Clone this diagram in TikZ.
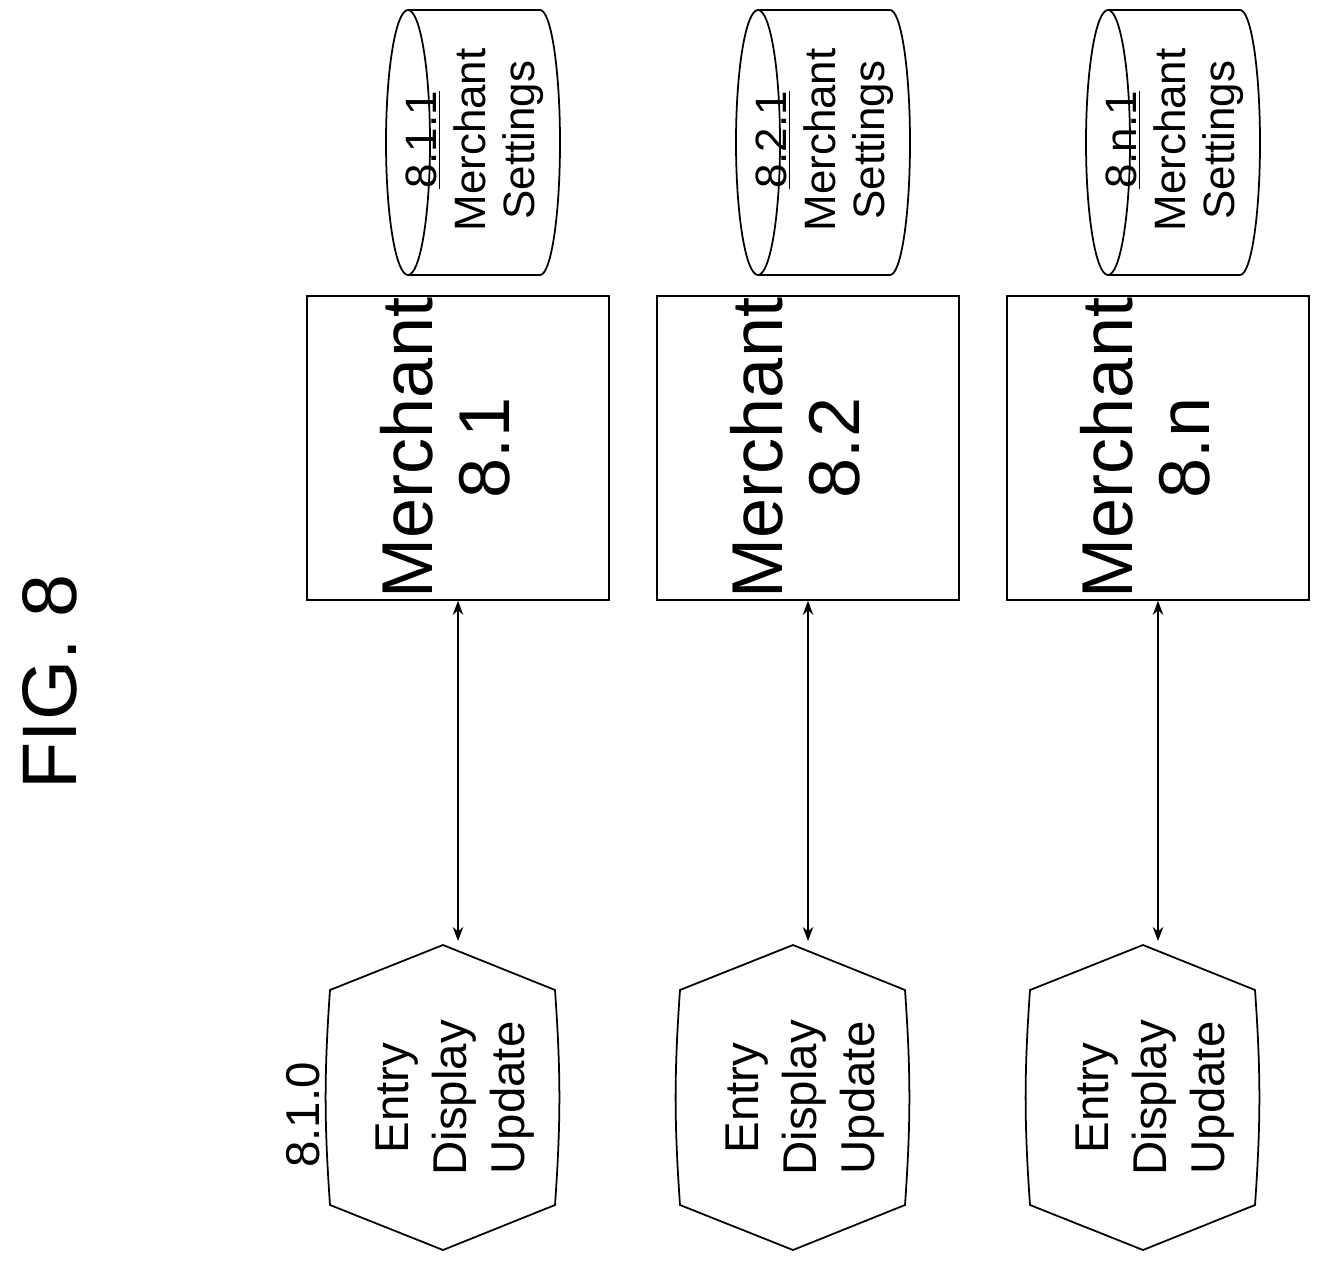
\documentclass[tikz,border=0pt]{standalone}
\usepackage{fontspec}
\setmainfont{Liberation Sans}
\usetikzlibrary{positioning, arrows.meta}

\begin{document}
\begin{tikzpicture}[
	x=0.02cm,
	y=-0.02cm,
	merchant/.style={draw, line width=1pt, minimum width=6.04cm, minimum height=6.08cm, inner sep=0pt},
	vtext/.style={rotate=90, align=center},
	>={Stealth[length=8pt, width=6pt]}
]
\useasboundingbox (0,0) rectangle (1332,1273);

\node [vtext, font=\fontsize{44}{50}\selectfont] (fig) at (50,682) {FIG. 8};

\foreach \dx/\n [count=\i] in {0/1, 350/2, 700/n} {
	% merchant box
	\node [merchant] (merchant-\i) at (458+\dx,448) {};
	\node [vtext, font=\fontsize{41}{44}\selectfont] (merchant-\i-text) at (445+\dx,448) {Merchant\\8.\n};
	% settings store
	\draw [line width=1pt] (408+\dx,10) -- (540+\dx,10) arc[start angle=90, end angle=-90, x radius=20, y radius=-132.5] -- (408+\dx,275);
	\draw [line width=1pt] (408+\dx,142.5) ellipse[x radius=22, y radius=132.5];
	\node [vtext, font=\fontsize{25}{28}\selectfont] (settings-\i) at (475+\dx,140) {\underline{8.\n.1}\\Merchant\\Settings};
	% display
	\draw [line width=1pt] (443+\dx,945) -- (555+\dx,990) to[bend left=4] (555+\dx,1205) -- (443+\dx,1250) -- (330+\dx,1205) to[bend left=4] (330+\dx,990) -- cycle;
	\node [vtext, font=\fontsize{27}{33}\selectfont] (display-\i) at (455+\dx,1098) {Entry\\Display\\Update};
	\coordinate (display-\i-top) at (458+\dx,941);
	\draw [<->, line width=0.8pt] (merchant-\i.south) -- (display-\i-top);
}

\node [vtext, font=\fontsize{27}{32}\selectfont] (display-1-label) at (303,1115) {8.1.0};

\end{tikzpicture}
\end{document}
